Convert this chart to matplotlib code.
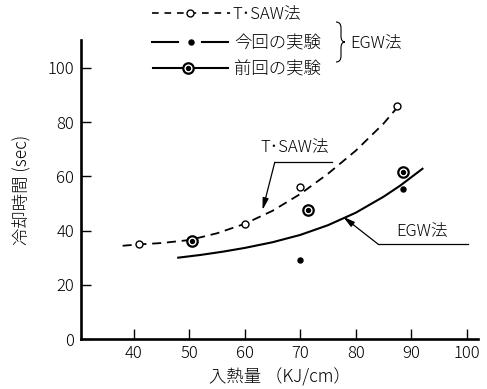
import matplotlib
matplotlib.use('Agg')
import matplotlib.pyplot as plt
from matplotlib.lines import Line2D
from matplotlib.path import Path
from matplotlib.patches import PathPatch

plt.rcParams['font.family'] = ['Noto Sans CJK JP', 'DejaVu Sans']
plt.rcParams['font.weight'] = 'light'
plt.rcParams['axes.labelweight'] = 'light'

# measured points
tsaw_x = [41, 60, 70, 87.5]
tsaw_y = [35, 42.5, 56, 86]
egw_now_x = [70, 88.5]
egw_now_y = [29, 55.5]
egw_prev_x = [50.5, 71.3, 88.5]
egw_prev_y = [36.2, 47.5, 61.5]

# hand-drawn trend curves
tsaw_curve_x = [38, 41, 45, 50, 55, 60, 65, 70, 75, 80, 85, 87.5]
tsaw_curve_y = [34.4, 34.9, 35.4, 36.5, 39, 42.5, 47.3, 53.5, 61, 69.5, 79.5, 85.5]
egw_curve_x = [48, 52, 56, 60, 65, 70, 75, 80, 85, 88, 92]
egw_curve_y = [30, 31, 32.2, 33.6, 35.7, 38.4, 42, 46.6, 52.5, 56.6, 62.8]

xticks = [40, 50, 60, 70, 80, 90, 100]
yticks = [0, 20, 40, 60, 80, 100]

W, H = 487, 389
fig = plt.figure(figsize=(W / 100, H / 100), dpi=100)
ax = fig.add_axes([81 / W, 1 - 339 / H, (478 - 81) / W, (339 - 40) / H])
ax.set_xlim(30.5, 102)
ax.set_ylim(0, 110.3)

for s in ['top', 'right']:
    ax.spines[s].set_visible(False)
for s in ['left', 'bottom']:
    ax.spines[s].set_linewidth(1.9)
ax.set_xticks(xticks)
ax.set_yticks(yticks)
ax.tick_params(direction='in', length=7, width=1.0, labelsize=12)
ax.tick_params(axis='y', pad=5)
ax.tick_params(axis='x', pad=4)

ax.set_xlabel('入熱量 （KJ/cm）', fontsize=12.5, va='center')
ax.xaxis.set_label_coords(0.5, (339 - 377) / 299)
ax.set_ylabel('冷却時間 (sec)', fontsize=12.5, va='center')
ax.yaxis.set_label_coords((22 - 81) / 397, 0.5)

# curves
ax.plot(tsaw_curve_x, tsaw_curve_y, color='black', lw=1.3, dashes=(5, 3.2))
ax.plot(egw_curve_x, egw_curve_y, color='black', lw=1.5)

# points
ax.plot(tsaw_x, tsaw_y, 'o', ms=5, mfc='white', mec='black', mew=1.0)
ax.plot(egw_now_x, egw_now_y, 'o', ms=3.6, color='black')
ax.plot(egw_prev_x, egw_prev_y, 'o', ms=7.5, mfc='white', mec='black', mew=1.6)
ax.plot(egw_prev_x, egw_prev_y, 'o', ms=2.8, color='black')

# callouts
arrow = dict(arrowstyle='-|>,head_length=0.7,head_width=0.18',
             color='black', lw=0.9, shrinkA=0, shrinkB=0)
ax.plot([75.7, 65.4], [65.2, 65.2], color='black', lw=0.9)
ax.annotate('', xy=(63.2, 47.6), xytext=(65.4, 65.2), arrowprops=arrow)
ax.text(69, 70.7, 'T･SAW法', fontsize=12, ha='center', va='center')

ax.plot([84, 100.2], [35, 35], color='black', lw=0.9)
ax.annotate('', xy=(77.7, 45.1), xytext=(84, 35), arrowprops=arrow)
ax.text(92, 39.6, 'EGW法', fontsize=12, ha='center', va='center')


# legend, drawn in figure pixels
def fp(x, y):
    return x / W, 1 - y / H


def fig_line(xs, ys, **kw):
    fx = [x / W for x in xs]
    fy = [1 - y / H for y in ys]
    fig.add_artist(Line2D(fx, fy, transform=fig.transFigure, **kw))


fig_line([152, 230], [13, 13], color='black', lw=1.2, dashes=(4, 3.5))
fig_line([190], [13], marker='o', ms=5, mfc='white', mec='black', mew=1.0, ls='none')
fig.text(*fp(232, 14), 'T･SAW法', fontsize=12, va='center')

fig_line([152, 178], [42, 42], color='black', lw=1.5)
fig_line([202, 228], [42, 42], color='black', lw=1.5)
fig_line([191], [42], marker='o', ms=3.6, color='black', ls='none')
fig.text(*fp(234, 43), '今回の実験', fontsize=12.5, va='center')

fig_line([153, 228], [68, 68], color='black', lw=1.5)
fig_line([188], [68], marker='o', ms=7.5, mfc='white', mec='black', mew=1.6, ls='none')
fig_line([188], [68], marker='o', ms=2.8, color='black', ls='none')
fig.text(*fp(234, 69), '前回の実験', fontsize=12.5, va='center')

# thin brace grouping the two EGW rows
verts = [fp(x, y) for x, y in [(336, 22), (341, 22), (341, 28), (341, 36),
                               (341, 42), (345, 42), (341, 42), (341, 48),
                               (341, 56), (341, 62), (336, 62)]]
codes = [Path.MOVETO, Path.CURVE3, Path.CURVE3, Path.LINETO,
         Path.CURVE3, Path.CURVE3, Path.CURVE3, Path.CURVE3,
         Path.LINETO, Path.CURVE3, Path.CURVE3]
fig.add_artist(PathPatch(Path(verts, codes), transform=fig.transFigure,
                         fill=False, lw=0.8, color='black'))
fig.text(*fp(350, 43), 'EGW法', fontsize=12, va='center')

fig.savefig('out.png', dpi=100)
